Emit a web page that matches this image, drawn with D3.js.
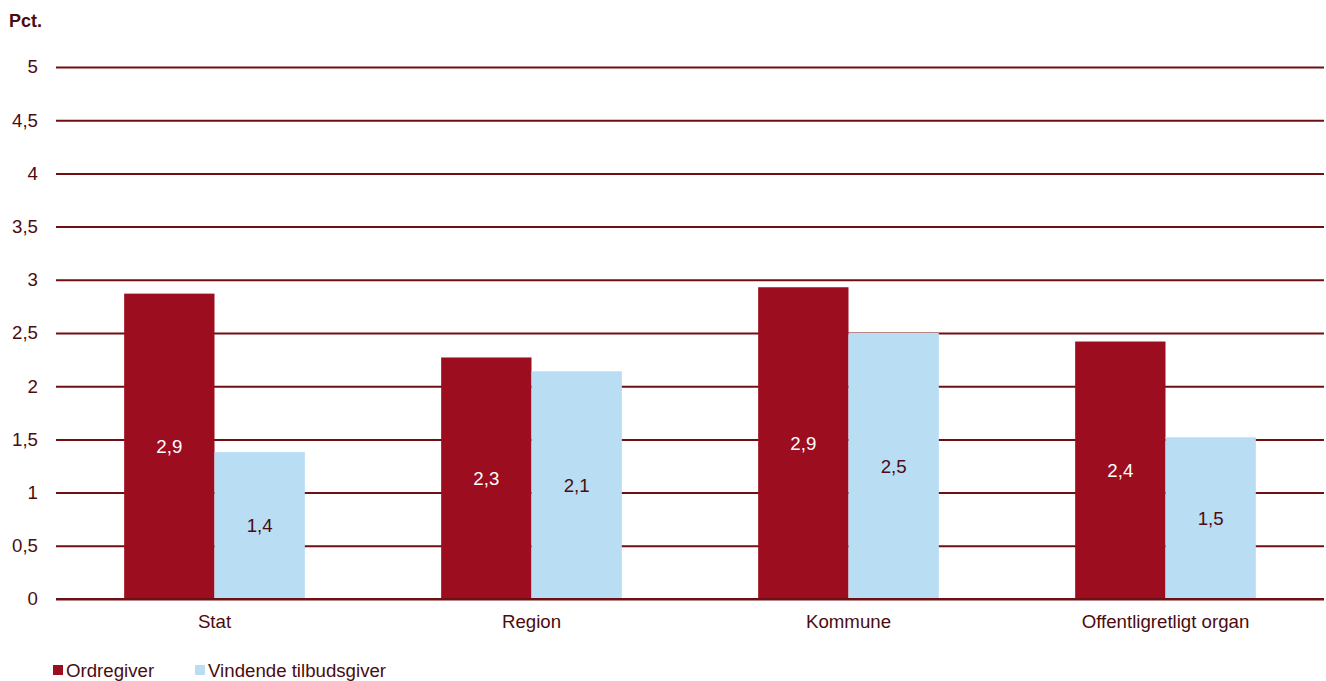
<!DOCTYPE html>
<html>
<head>
<meta charset="utf-8">
<script src="https://cdn.jsdelivr.net/npm/d3@7/dist/d3.min.js"></script>
<style>
  html, body { margin: 0; padding: 0; background: #ffffff; }
  svg { display: block; font-family: "Liberation Sans", Arial, sans-serif; }
</style>
</head>
<body>
<svg id="chart" width="1326" height="681"></svg>
<script>
// Sector categories and the two series (pct.)
const categories = ["Stat", "Region", "Kommune", "Offentligretligt organ"];
const ordregiver = [2.87, 2.27, 2.93, 2.42];
const vindende = [1.38, 2.14, 2.5, 1.52];
const seriesNames = ["Ordregiver", "Vindende tilbudsgiver"];
const yTicks = [0, 0.5, 1, 1.5, 2, 2.5, 3, 3.5, 4, 4.5, 5];

const colors = ["#9b0d1f", "#b9ddf3"];
const gridColor = "#6e0f13";
const textColor = "#4a0c10";
const fontSize = 18.67;

const svg = d3.select("#chart");
const W = 1326, H = 681;
const m = { left: 56, right: 2, top: 67, bottom: 82 };

const x = d3.scaleBand().domain(categories).range([m.left, W - m.right]).paddingInner(0).paddingOuter(0);
const y = d3.scaleLinear().domain([0, 5]).range([H - m.bottom, m.top]);

const fmt = v => d3.format(".1f")(v).replace(".", ",");

// Horizontal gridlines with tick labels
const yAxis = d3.axisLeft(y).tickValues(yTicks).tickSize(-(W - m.right - m.left)).tickPadding(18);
const gy = svg.append("g").attr("transform", `translate(${m.left},0)`).call(yAxis);
gy.select(".domain").remove();
gy.selectAll(".tick line").attr("stroke", gridColor).attr("stroke-width", 2);
gy.selectAll(".tick text")
  .text(d => d3.format("")(d).replace(".", ","))
  .attr("fill", textColor).attr("font-size", fontSize).attr("font-family", "Liberation Sans, Arial, sans-serif");

// Bars
const barW = x.bandwidth() * 0.285;
const data = categories.map((c, i) => ({ c, vals: [ordregiver[i], vindende[i]] }));

const groups = svg.append("g").selectAll("g").data(data).join("g")
  .attr("transform", d => `translate(${x(d.c) + x.bandwidth() / 2 - barW},0)`);

groups.selectAll("rect").data(d => d.vals).join("rect")
  .attr("x", (d, i) => i * barW)
  .attr("y", d => y(d))
  .attr("width", barW)
  .attr("height", d => y(0) - y(d))
  .attr("fill", (d, i) => colors[i]);

groups.selectAll("text").data(d => d.vals).join("text")
  .attr("x", (d, i) => i * barW + barW / 2)
  .attr("y", d => (y(d) + y(0)) / 2)
  .attr("dy", "0.35em")
  .attr("text-anchor", "middle")
  .attr("font-size", fontSize)
  .attr("fill", (d, i) => i === 0 ? "#ffffff" : textColor)
  .text(d => fmt(d));

// Baseline redrawn on top of the bars
svg.append("line")
  .attr("x1", m.left).attr("x2", W - m.right)
  .attr("y1", y(0)).attr("y2", y(0))
  .attr("stroke", gridColor).attr("stroke-width", 2);

// Category labels
svg.append("g").selectAll("text").data(categories).join("text")
  .attr("x", d => x(d) + x.bandwidth() / 2)
  .attr("y", y(0) + 22)
  .attr("dy", "0.35em")
  .attr("text-anchor", "middle")
  .attr("font-size", fontSize)
  .attr("fill", textColor)
  .text(d => d);

// Unit label
svg.append("text")
  .attr("x", 9).attr("y", 27)
  .attr("font-size", 18).attr("font-weight", "bold")
  .attr("fill", textColor)
  .text("Pct.");

// Legend
const legendX = [53, 195];
const lg = svg.append("g").selectAll("g").data(seriesNames).join("g")
  .attr("transform", (d, i) => `translate(${legendX[i]},665)`);
lg.append("rect").attr("width", 10).attr("height", 10).attr("fill", (d, i) => colors[i]);
lg.append("text").attr("x", 13).attr("y", 11.5)
  .attr("font-size", fontSize).attr("fill", textColor).text(d => d);
</script>
</body>
</html>
